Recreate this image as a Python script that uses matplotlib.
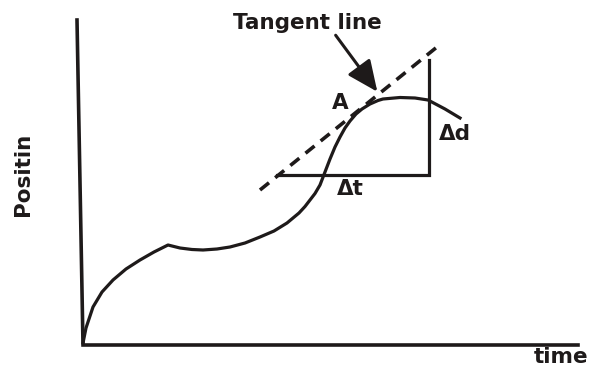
import matplotlib
matplotlib.use('Agg')
import numpy as np
from matplotlib import pyplot as plt

# everything below is in image pixel units (x right, y down)
curve_x = [83, 86, 93, 102, 113, 126, 140, 154, 168, 180, 192, 203, 217, 230, 245,
           260, 274, 287, 299, 305, 310, 315, 320, 325, 330, 335, 340, 345, 350,
           356, 362, 370, 378, 383, 400, 415, 428, 445, 460]
curve_y = [343, 328, 307, 292, 280, 269, 260, 252, 245, 248, 249.5, 250, 249, 247, 243,
           237, 231, 223, 213, 206.5, 200, 193.5, 185, 172, 159, 147, 137, 128, 121,
           114, 109, 104, 100.5, 99, 97.5, 98, 100, 109, 118]

axis_x = [77, 83, 578]
axis_y = [20, 345, 345]

tangent_x = [260, 437]
tangent_y = [190, 47]

delta_x = [277, 429, 429]
delta_y = [175, 175, 60]

labels = ['Tangent line', 'A', '\u0394t', '\u0394d', 'time']
label_x = [307, 340, 350, 455, 561]
label_y = [23, 103, 189, 134, 357]

ink = '#1e1a1a'

fig = plt.figure(figsize=(5.91, 3.67), dpi=100)
ax = fig.add_axes([0, 0, 1, 1])
ax.set_xlim(0, 591)
ax.set_ylim(367, 0)
ax.axis('off')

ax.plot(axis_x, axis_y, color=ink, lw=2.6, solid_joinstyle='miter')
ax.plot(curve_x, curve_y, color=ink, lw=2.3)
ax.plot(tangent_x, tangent_y, color=ink, lw=2.6, linestyle=(0, (3.2, 2.2)))
ax.plot(delta_x, delta_y, color=ink, lw=2.3, solid_joinstyle='miter')

# arrow from label to tangent line
ax.annotate('', xy=(379, 94), xytext=(334, 33),
            arrowprops=dict(arrowstyle='-|>,head_length=1.9,head_width=0.85',
                            color=ink, lw=2.2))

for t, x, y in zip(labels, label_x, label_y):
    ax.text(x, y, t, ha='center', va='center', fontsize=15.5,
            fontweight='bold', color=ink)

ax.text(23, 174, 'Positin', rotation=90, ha='center', va='center',
        fontsize=15.5, fontweight='bold', color=ink)

fig.savefig('out.png', dpi=100)
